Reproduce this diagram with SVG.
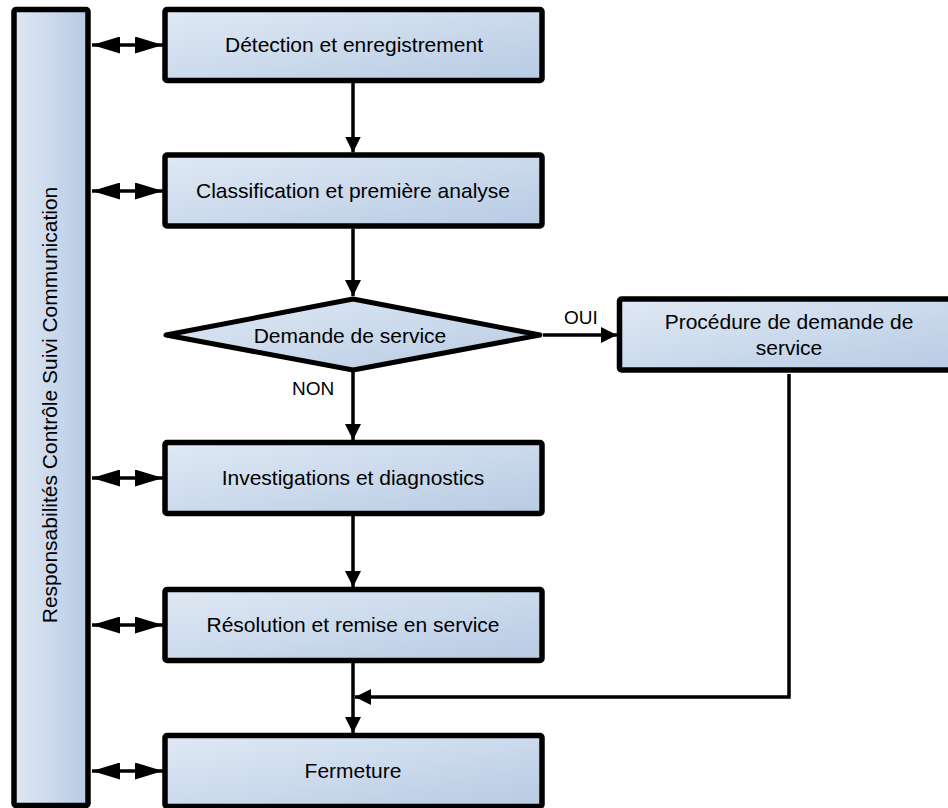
<svg xmlns="http://www.w3.org/2000/svg" width="948" height="808" viewBox="0 0 948 808">
<style>
.box{stroke:#000;stroke-width:5.5;fill:url(#gb)}
.t{font-family:"Liberation Sans",Arial,sans-serif;font-size:21px;fill:#000;text-anchor:middle}
.l{font-family:"Liberation Sans",Arial,sans-serif;font-size:19px;fill:#000}
.c{stroke:#000;stroke-width:3.5;fill:none}
.d{stroke:#000;stroke-width:3.5;fill:none;marker-start:url(#dh);marker-end:url(#dh)}
</style>
<defs>
<linearGradient id="gb" x1="0" y1="0" x2="1" y2="1">
<stop offset="0" stop-color="#e0e9f4"/>
<stop offset="1" stop-color="#b7cbe4"/>
</linearGradient>
<linearGradient id="gv" x1="0" y1="0" x2="1" y2="0">
<stop offset="0" stop-color="#dfe8f4"/>
<stop offset="1" stop-color="#b7cbe4"/>
</linearGradient>
<marker id="ah" viewBox="0 0 16 16" refX="16" refY="8" markerWidth="16" markerHeight="16" markerUnits="userSpaceOnUse" orient="auto">
<path d="M0,0 L16,8 L0,16 z" fill="#000"/>
</marker>
<marker id="dh" viewBox="0 0 28 17" refX="28" refY="8.5" markerWidth="28" markerHeight="17" markerUnits="userSpaceOnUse" orient="auto-start-reverse">
<path d="M0,0 L28,8.5 L0,17 z" fill="#000"/>
</marker>
</defs>
<g id="connectors">
<line class="d" x1="92" y1="45" x2="163" y2="45"/>
<line class="d" x1="92" y1="191" x2="163" y2="191"/>
<line class="d" x1="92" y1="478" x2="163" y2="478"/>
<line class="d" x1="92" y1="625" x2="163" y2="625"/>
<line class="d" x1="92" y1="771" x2="163" y2="771"/>
<line class="c" x1="353" y1="83" x2="353" y2="152.5" marker-end="url(#ah)"/>
<line class="c" x1="353" y1="228.5" x2="353" y2="296" marker-end="url(#ah)"/>
<line class="c" x1="353" y1="371" x2="353" y2="440" marker-end="url(#ah)"/>
<line class="c" x1="353" y1="516" x2="353" y2="587" marker-end="url(#ah)"/>
<line class="c" x1="353" y1="663" x2="353" y2="733" marker-end="url(#ah)"/>
<line class="c" stroke-width="2.5" x1="543" y1="335" x2="617" y2="335" marker-end="url(#ah)"/>
<polyline class="c" stroke-width="2.5" points="789,374 789,697 355,697" marker-end="url(#ah)"/>
<text class="l" x="564" y="324">OUI</text>
<text class="l" x="292" y="395">NON</text>
</g>
<g id="responsabilites">
<rect x="14" y="9.5" width="74" height="796" rx="2" fill="url(#gv)" stroke="#000" stroke-width="5.5"/>
<text class="t" x="57" y="405" transform="rotate(-90 57 405)">Responsabilités Contrôle Suivi Communication</text>
</g>
<g id="detection">
<rect class="box" x="165" y="9.5" width="377" height="71" rx="2"/>
<text class="t" x="354" y="52">Détection et enregistrement</text>
</g>
<g id="classification">
<rect class="box" x="165" y="155" width="377" height="71" rx="2"/>
<text class="t" x="353" y="198">Classification et première analyse</text>
</g>
<g id="demande">
<polygon points="166,335 353,299 540,335 353,370" fill="url(#gb)" stroke="#000" stroke-width="5" stroke-linejoin="round"/>
<text class="t" x="350" y="343">Demande de service</text>
</g>
<g id="procedure">
<rect class="box" x="619.5" y="299" width="345" height="71" rx="2"/>
<text class="t" x="789" y="329">Procédure de demande de</text>
<text class="t" x="789" y="355">service</text>
</g>
<g id="investigations">
<rect class="box" x="165" y="442.5" width="377" height="71" rx="2"/>
<text class="t" x="353" y="485">Investigations et diagnostics</text>
</g>
<g id="resolution">
<rect class="box" x="165" y="589.5" width="377" height="71" rx="2"/>
<text class="t" x="353" y="632">Résolution et remise en service</text>
</g>
<g id="fermeture">
<rect class="box" x="165" y="735.5" width="377" height="71" rx="2"/>
<text class="t" x="353" y="778">Fermeture</text>
</g>
</svg>
